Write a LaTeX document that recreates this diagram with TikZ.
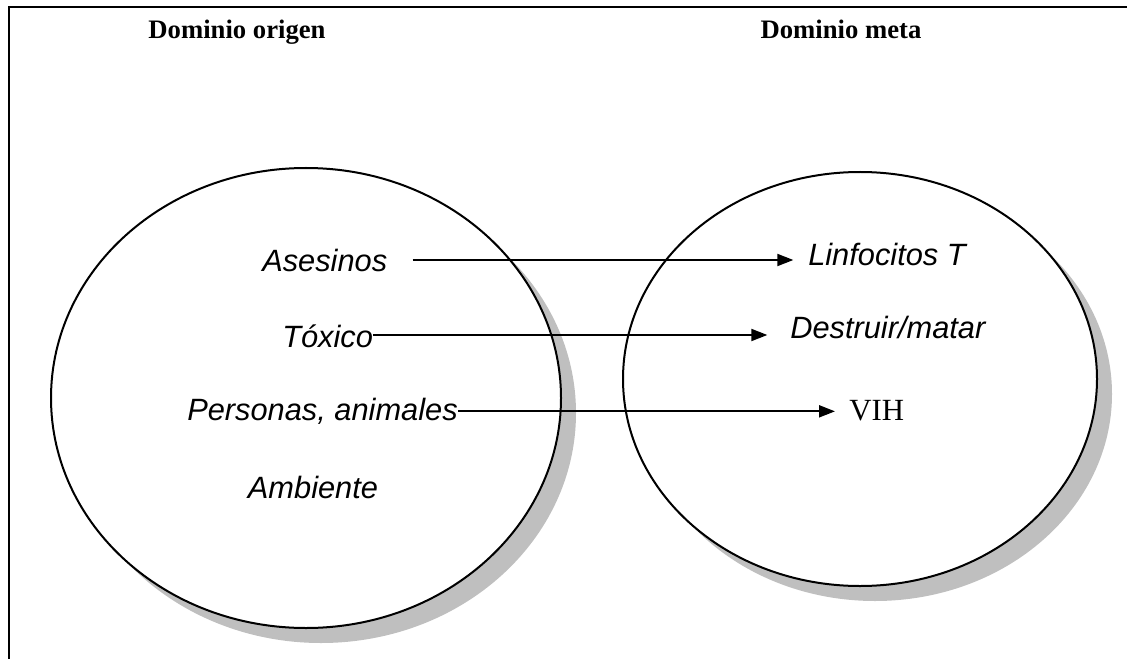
\documentclass[tikz,border=0pt]{standalone}
\usepackage{fontspec}
\setmainfont{Liberation Serif}
\newfontfamily\arialfont{Liberation Sans}
\usetikzlibrary{arrows.meta}
\definecolor{sombra}{gray}{0.75}
\tikzset{
  titulo/.style={inner sep=0pt, font=\fontsize{20}{24}\selectfont\bfseries},
  termino/.style={inner sep=0pt, font=\arialfont\itshape\fontsize{23.1}{28}\selectfont},
  simple/.style={inner sep=0pt, font=\fontsize{23.1}{28}\selectfont},
  flecha/.style={line width=1.5pt, -{Triangle[length=12pt,width=9pt]}},
  elipse/.style={line width=1.5pt, draw=black, fill=white}
}
\begin{document}
\begin{tikzpicture}[x=0.75pt,y=-0.75pt]
        \useasboundingbox (0,0) rectangle (1127,659);
        \draw[line width=1.6pt] (9,659) -- (9,7) -- (1127,7);

        \fill[sombra] (321,413) ellipse [x radius=191.25pt, y radius=172.5pt];
        \draw[elipse] (306,398) ellipse [x radius=191.25pt, y radius=172.5pt];
        \fill[sombra] (875,394) ellipse [x radius=177.75pt, y radius=155.25pt];
        \draw[elipse] (860,379) ellipse [x radius=177.75pt, y radius=155.25pt];

        \node[titulo, anchor=base] (origen) at (237,39) {Dominio origen};
        \node[titulo, anchor=base] (meta) at (841,39) {Dominio meta};

        \node[termino, anchor=base west] (asesinos) at (262,272) {Asesinos};
        \node[termino, anchor=base west] (toxico) at (282,347) {Tóxico};
        \node[termino, anchor=base west] (personas) at (187,420) {Personas, animales};
        \node[termino, anchor=base] (ambiente) at (313,498) {Ambiente};

        \node[termino, anchor=base west] (linfocitos) at (808,265) {Linfocitos T};
        \node[termino, anchor=base west] (destruir) at (790,338) {Destruir/matar};
        \node[simple, anchor=base west] (vih) at (849,420) {VIH};

        \draw[flecha, shorten <=18.75pt, shorten >=11pt] ([yshift=9pt]asesinos.base east) -- ([yshift=9pt]asesinos.base east -| linfocitos.west);
        \draw[flecha, shorten >=17pt] ([yshift=9pt]toxico.base east) -- ([yshift=9pt]toxico.base east -| destruir.west);
        \draw[flecha, shorten >=10.5pt] ([yshift=6.5pt]personas.base east) -- ([yshift=6.5pt]personas.base east -| vih.west);
\end{tikzpicture}
\end{document}
